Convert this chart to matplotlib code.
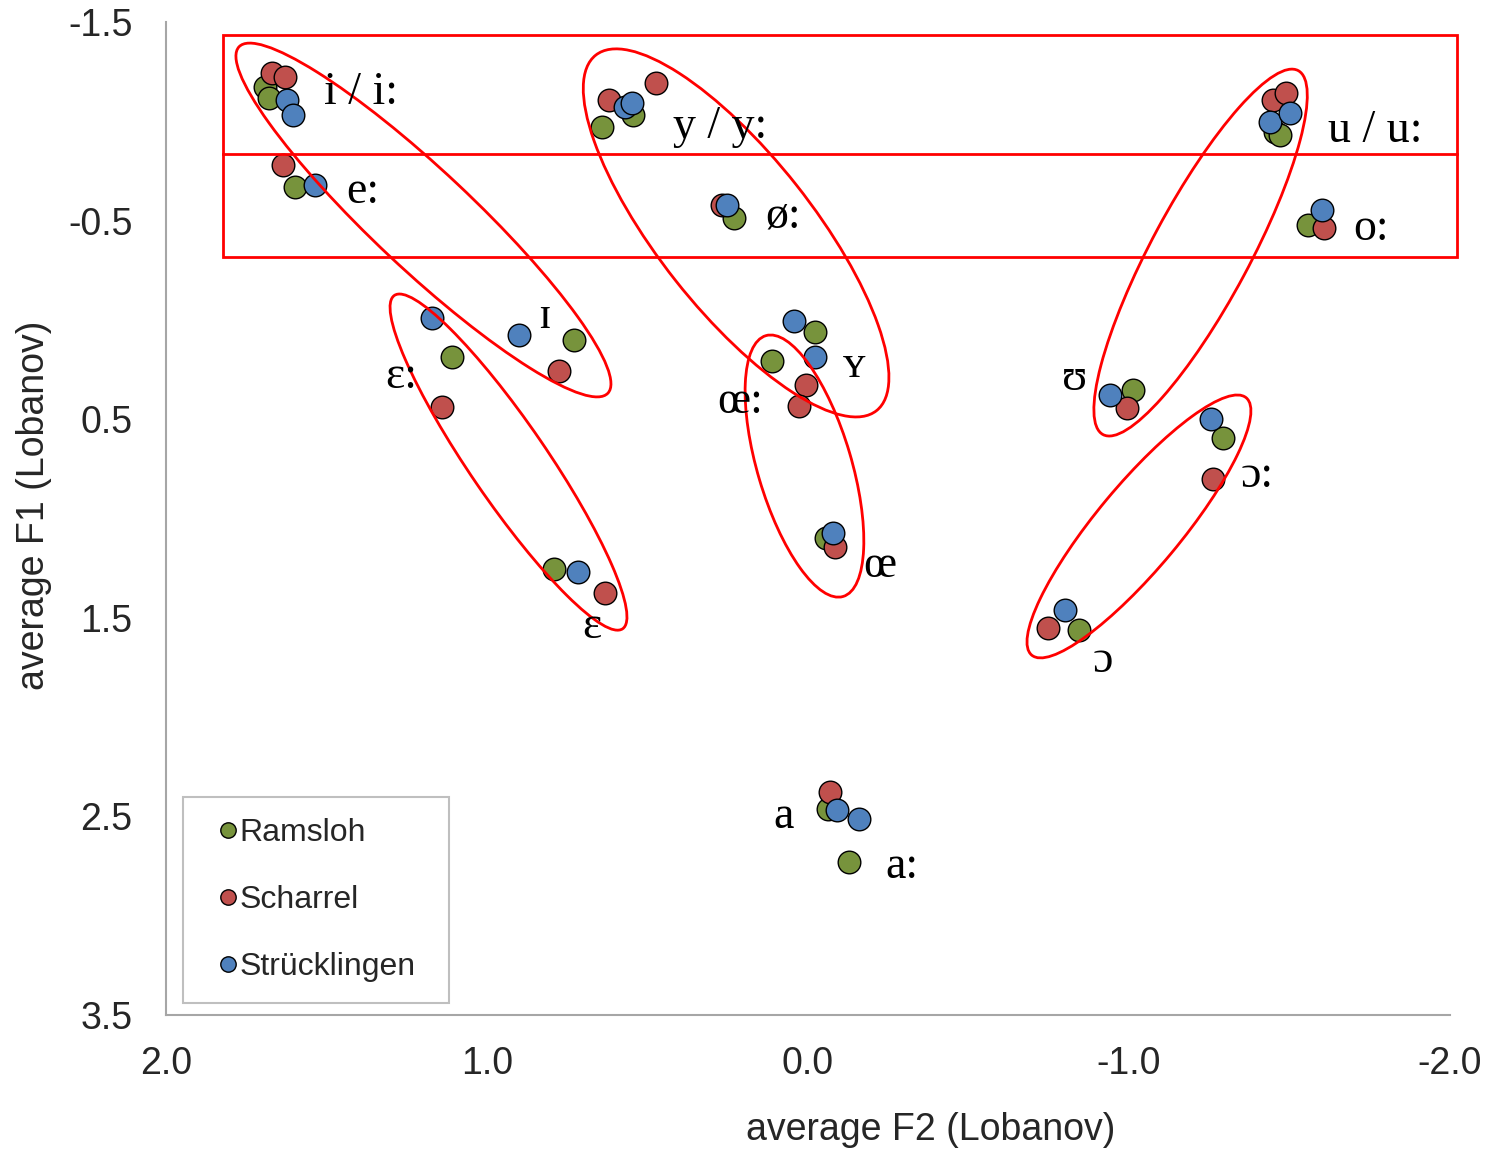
import matplotlib
matplotlib.use("Agg")
import matplotlib.pyplot as plt
import matplotlib.transforms as mtransforms
from matplotlib.patches import Ellipse, Rectangle
from matplotlib.lines import Line2D
from matplotlib.legend_handler import HandlerPathCollection
from matplotlib.collections import PathCollection

# ------------------------------------------------------------------ data
series_names = ["Ramsloh", "Scharrel", "Strücklingen"]

# vowel order: i, i:, e:, ɪ, ɛ:, ɛ, y, y:, ø:, ʏ, œ:, œ, u, u:, o:, ʊ, ɔ:, ɔ, a, a:
ramsloh_f2 = [1.692, 1.678, 1.598, 0.729, 1.110, 0.790, 0.641, 0.544, 0.231, -0.022,
              0.113, -0.056, -1.455, -1.470, -1.559, -1.012, -1.294, -0.845, -0.063, -0.129]
ramsloh_f1 = [-1.173, -1.116, -0.671, 0.101, 0.185, 1.256, -0.970, -1.032, -0.512, 0.061,
              0.207, 1.100, -0.946, -0.931, -0.478, 0.353, 0.596, 1.561, 2.464, 2.731]

scharrel_f2 = [1.671, 1.629, 1.635, 0.775, 1.139, 0.632, 0.619, 0.474, 0.269, 0.006,
               0.028, -0.084, -1.450, -1.489, -1.607, -0.995, -1.263, -0.749, -0.069]
scharrel_f1 = [-1.242, -1.225, -0.780, 0.257, 0.437, 1.377, -1.107, -1.191, -0.579, 0.328,
               0.434, 1.142, -1.107, -1.144, -0.461, 0.445, 0.801, 1.553, 2.379]

struecklingen_f2 = [1.624, 1.603, 1.536, 0.900, 1.170, 0.716, 0.570, 0.549, 0.253, 0.043,
                    -0.022, -0.077, -1.439, -1.502, -1.600, -0.941, -1.255, -0.801, -0.091, -0.160]
struecklingen_f1 = [-1.107, -1.032, -0.679, 0.076, -0.008, 1.271, -1.074, -1.091, -0.579, 0.004,
                    0.185, 1.075, -0.998, -1.043, -0.553, 0.378, 0.500, 1.461, 2.468, 2.515]

vowel_labels = ["i / i:", "e:", "ɪ", "ɛ:", "ɛ", "y / y:", "ø:", "ʏ", "œ:", "œ",
                "u / u:", "o:", "ʊ", "ɔ:", "ɔ", "a", "a:"]
vowel_label_f2 = [1.508, 1.437, 0.841, 1.318, 0.704, 0.421, 0.134, -0.109, 0.283, -0.171,
                  -1.620, -1.698, -0.791, -1.349, -0.888, 0.109, -0.240]
vowel_label_f1 = [-1.087, -0.589, 0.041, 0.343, 1.602, -0.916, -0.463, 0.288, 0.469, 1.295,
                  -0.896, -0.402, 0.353, 0.841, 1.773, 2.558, 2.810]

x_ticks = [2.0, 1.0, 0.0, -1.0, -2.0]
x_tick_labels = ["2.0", "1.0", "0.0", "-1.0", "-2.0"]
y_ticks = [-1.5, -0.5, 0.5, 1.5, 2.5, 3.5]
y_tick_labels = ["-1.5", "-0.5", "0.5", "1.5", "2.5", "3.5"]

# red annotation shapes: ellipses (centre F2, centre F1, major px, minor px, angle deg)
ell_f2 = [1.198, 0.224, 0.933, 0.011, -1.223, -1.031]
ell_f1 = [-0.503, -0.438, 0.716, 0.736, -0.339, 1.040]
ell_major = [506, 453, 404, 272, 413, 335]
ell_minor = [99, 154, 77, 94, 98, 84]
ell_angle = [-43.2, -51.7, -55.6, -73.5, 61.8, 50.2]
# rectangle for long vowels / divider
rect_f2 = (1.823, -2.021)
rect_f1 = (-1.435, -0.318)
divider_f1 = -0.833

# ------------------------------------------------------------------ style
colors = ["#77933C", "#C0504D", "#4F81BD"]
text_color = "#262626"
sans = ["Liberation Sans", "DejaVu Sans"]
serif = ["Liberation Serif", "DejaVu Serif"]

W, H = 1495, 1149
fig = plt.figure(figsize=(W / 100, H / 100), dpi=100)
ax = fig.add_axes([166 / W, 1 - 1015 / H, 1284 / W, 993 / H])
ax.set_xlim(2.0, -2.0)
ax.set_ylim(3.5, -1.5)

for s in ["top", "right"]:
    ax.spines[s].set_visible(False)
for s in ["left", "bottom"]:
    ax.spines[s].set_color("#a6a6a6")
    ax.spines[s].set_linewidth(1.5)

ax.set_xticks(x_ticks)
ax.set_xticklabels(x_tick_labels, fontsize=27, color=text_color, family=sans)
ax.set_yticks(y_ticks)
ax.set_yticklabels(y_tick_labels, fontsize=27, color=text_color, family=sans)
ax.tick_params(axis="x", length=0, pad=22)
ax.tick_params(axis="y", length=0, pad=24)

ax.set_xlabel("average F2 (Lobanov)", fontsize=27, color=text_color, family=sans)
ax.xaxis.set_label_coords((931 - 166) / 1284, (1015 - 1112) / 993)
ax.set_ylabel("average F1 (Lobanov)", fontsize=27, color=text_color, family=sans)
ax.yaxis.set_label_coords((52 - 166) / 1284, (1015 - 505) / 993)

# ------------------------------------------------------------------ points
all_f2 = [ramsloh_f2, scharrel_f2, struecklingen_f2]
all_f1 = [ramsloh_f1, scharrel_f1, struecklingen_f1]
handles = []
for f2, f1, c, name in zip(all_f2, all_f1, colors, series_names):
    h = ax.scatter(f2, f1, s=265, color=c, edgecolor="black", linewidth=1.0,
                   zorder=3, label=name, clip_on=False)
    handles.append(h)

# ------------------------------------------------------------------ vowel labels
for lab, x, y in zip(vowel_labels, vowel_label_f2, vowel_label_f1):
    ax.text(x, y, lab, fontsize=33, family=serif, color="black",
            ha="left", va="baseline", zorder=5)

# ------------------------------------------------------------------ red shapes
red = "#FF0000"
for cx, cy, a, b, ang in zip(ell_f2, ell_f1, ell_major, ell_minor, ell_angle):
    trans = (mtransforms.Affine2D().scale(fig.dpi / 100.0)
             + mtransforms.ScaledTranslation(cx, cy, ax.transData))
    e = Ellipse((0, 0), a, b, angle=ang, transform=trans, fill=False,
                edgecolor=red, linewidth=2.0, zorder=4, clip_on=False)
    ax.add_artist(e)

rect = Rectangle((rect_f2[0], rect_f1[0]), rect_f2[1] - rect_f2[0], rect_f1[1] - rect_f1[0],
                 fill=False, edgecolor=red, linewidth=2.0, zorder=4, clip_on=False)
ax.add_patch(rect)
ax.add_line(Line2D(list(rect_f2), [divider_f1, divider_f1], color=red, linewidth=2.0,
                   zorder=4, clip_on=False))

# ------------------------------------------------------------------ legend
leg_left = (183 - 166) / 1284
leg_top = (1015 - 797) / 993
leg_w = (449 - 183) / 1284
leg_h = (997 - 797) / 993
leg = ax.legend(handles=handles, labels=series_names, loc="upper left",
                bbox_to_anchor=(leg_left, leg_top - leg_h, leg_w, leg_h), mode="expand",
                borderaxespad=0, prop={"family": sans, "size": 23},
                frameon=True, fancybox=False, edgecolor="#bfbfbf", framealpha=1,
                borderpad=0.66, handlelength=1.0, handletextpad=0.11,
                labelspacing=1.16, scatterpoints=1, markerscale=0.68,
                handler_map={PathCollection: HandlerPathCollection(xpad=0.48, yoffsets=[0.5])})
leg.get_frame().set_linewidth(1.5)
for t in leg.get_texts():
    t.set_color(text_color)

fig.savefig("out.png", dpi=100)
